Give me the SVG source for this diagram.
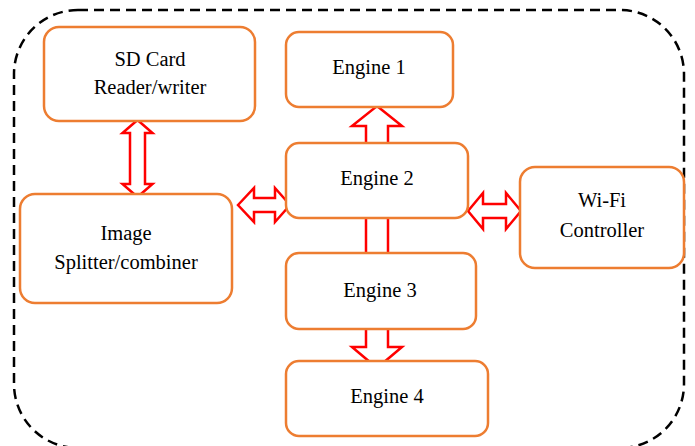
<svg xmlns="http://www.w3.org/2000/svg" width="695" height="446" viewBox="0 0 695 446">
<style>
.box{fill:#fff;stroke:#ED7D31;stroke-width:2.5}
.arr{fill:#fff;stroke:#FF0000;stroke-width:2.5;stroke-linejoin:miter}
.ln{stroke:#FF0000;stroke-width:2.5}
.t{font-family:'Liberation Serif','Times New Roman',Times,Tinos,'Noto Serif','DejaVu Serif',FreeSerif,serif;font-size:20.5px;fill:#000;text-anchor:middle}
</style>
<rect x="14" y="10" width="670" height="438" rx="64" fill="none" stroke="#000" stroke-width="2.5" stroke-dasharray="10,6"/>
<g id="connectors">
<path class="arr" d="M137.5,120 L152.5,133 L145,133 L145,184 L152.5,184 L137.5,197 L122.5,184 L130,184 L130,133 L122.5,133 Z"/>
<path class="arr" d="M238,205 L254,188 L254,198 L275,198 L275,188 L290,205 L275,222 L275,212 L254,212 L254,222 Z"/>
<path class="arr" d="M468,211 L483,193 L483,204 L506,204 L506,193 L521,211 L506,229 L506,218 L483,218 L483,229 Z"/>
<path class="arr" d="M377,106 L402,126 L388,126 L388,150 L366,150 L366,126 L352,126 Z"/>
<line class="ln" x1="366" y1="215" x2="366" y2="256"/>
<line class="ln" x1="388" y1="215" x2="388" y2="256"/>
<path class="arr" d="M366,325 L366,347 L352,347 L377,368 L402,347 L388,347 L388,325 Z"/>
</g>
<g id="sdcard"><rect class="box" x="44" y="27" width="211" height="94" rx="15"/><text class="t" x="150" y="66">SD Card</text><text class="t" x="150" y="94">Reader/writer</text></g>
<g id="engine1"><rect class="box" x="286" y="32" width="167" height="75" rx="13"/><text class="t" x="369" y="74">Engine 1</text></g>
<g id="engine2"><rect class="box" x="286" y="143" width="182" height="75" rx="13"/><text class="t" x="377" y="185">Engine 2</text></g>
<g id="image"><rect class="box" x="20" y="194" width="212" height="109" rx="15"/><text class="t" x="126" y="240">Image</text><text class="t" x="126" y="269">Splitter/combiner</text></g>
<g id="wifi"><rect class="box" x="520" y="167" width="164" height="101" rx="15"/><text class="t" x="602" y="207">Wi-Fi</text><text class="t" x="602" y="237">Controller</text></g>
<g id="engine3"><rect class="box" x="286" y="253" width="190" height="76" rx="13"/><text class="t" x="380" y="297">Engine 3</text></g>
<g id="engine4"><rect class="box" x="286" y="361" width="202" height="75" rx="13"/><text class="t" x="387" y="403">Engine 4</text></g>
</svg>
